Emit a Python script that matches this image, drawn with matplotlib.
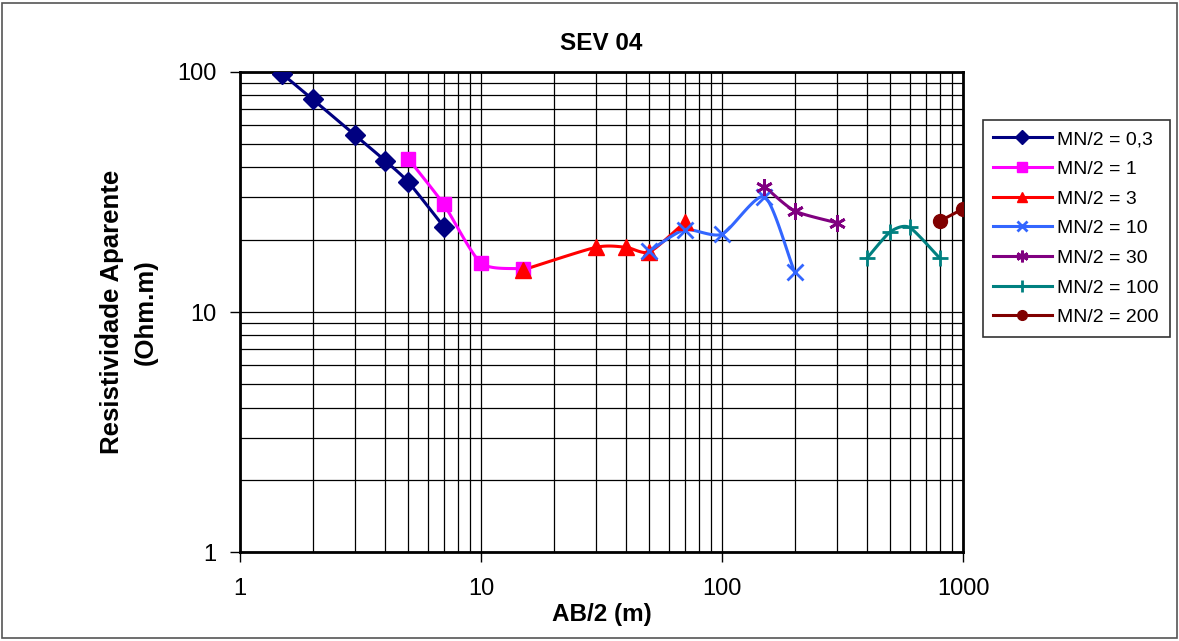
import numpy as np
import matplotlib.pyplot as plt
from matplotlib.patches import Rectangle

plt.rcParams['font.family'] = ['Liberation Sans', 'DejaVu Sans']

# AB/2 (m) and apparent resistivity (Ohm.m) for each MN/2
x_03 = [1.5, 2, 3, 4, 5, 7]
y_03 = [98, 77, 54.6, 42.7, 34.7, 22.7]
x_1 = [5, 7, 10, 15]
y_1 = [43.4, 28.1, 16.0, 15.1]
x_3 = [15, 30, 40, 50, 70]
y_3 = [15.0, 18.6, 18.6, 17.8, 23.6]
x_10 = [50, 70, 100, 150, 200]
y_10 = [18.0, 22.0, 21.1, 30.2, 14.7]
x_30 = [150, 200, 300]
y_30 = [33.3, 26.4, 23.5]
x_100 = [400, 500, 600, 800]
y_100 = [16.8, 21.6, 22.5, 16.8]
x_200 = [800, 1000]
y_200 = [23.9, 26.9]

labels = ['MN/2 = 0,3', 'MN/2 = 1', 'MN/2 = 3', 'MN/2 = 10',
          'MN/2 = 30', 'MN/2 = 100', 'MN/2 = 200']
colors = ['#000080', '#FF00FF', '#FF0000', '#3366FF',
          '#800080', '#008080', '#800000']
markers = ['D', 's', '^', 'x', (6, 2, 0), '+', 'o']
msizes = [10, 10, 11, 11, 12, 12, 10]


def smooth(x, y, n=30, k=0.35):
    # cardinal spline through the points in log-log space (like Excel smoothed lines)
    lx, ly = np.log10(x), np.log10(y)
    if len(lx) < 3:
        return x, y
    px = np.concatenate([[2 * lx[0] - lx[1]], lx, [2 * lx[-1] - lx[-2]]])
    py = np.concatenate([[2 * ly[0] - ly[1]], ly, [2 * ly[-1] - ly[-2]]])
    ox, oy = [], []
    t = np.linspace(0, 1, n)
    h00 = 2 * t ** 3 - 3 * t ** 2 + 1
    h10 = t ** 3 - 2 * t ** 2 + t
    h01 = -2 * t ** 3 + 3 * t ** 2
    h11 = t ** 3 - t ** 2
    for i in range(1, len(px) - 2):
        for p, out in ((px, ox), (py, oy)):
            m1 = k * (p[i + 1] - p[i - 1])
            m2 = k * (p[i + 2] - p[i])
            out.extend(h00 * p[i] + h10 * m1 + h01 * p[i + 1] + h11 * m2)
    return 10 ** np.array(ox), 10 ** np.array(oy)


fig = plt.figure(figsize=(11.79, 6.41), dpi=100)
ax = fig.add_axes([0.2036, 0.1388, 0.6132, 0.7489])

series = [(x_03, y_03), (x_1, y_1), (x_3, y_3), (x_10, y_10),
          (x_30, y_30), (x_100, y_100), (x_200, y_200)]
for (xs, ys), lab, c, m, ms in zip(series, labels, colors, markers, msizes):
    sx, sy = smooth(xs, ys)
    ax.plot(sx, sy, color=c, lw=2.2, zorder=3)
    mew = 2 if m in ('x', '+', (6, 2, 0)) else 1
    ax.plot(xs, ys, linestyle='none', marker=m, color=c, ms=ms, mew=mew, zorder=4)
    ax.plot([], [], color=c, lw=2.2, marker=m, ms=ms * 0.7, mew=mew, label=lab)

ax.set_xscale('log')
ax.set_yscale('log')
ax.set_xlim(1, 1000)
ax.set_ylim(1, 100)
ax.set_xticks([1, 10, 100, 1000])
ax.set_xticklabels(['1', '10', '100', '1000'])
ax.set_yticks([1, 10, 100])
ax.set_yticklabels(['1', '10', '100'])
ax.tick_params(axis='both', which='major', labelsize=17, length=7, width=1, direction='out')
ax.tick_params(axis='x', pad=12)
ax.tick_params(axis='y', pad=10)
ax.tick_params(which='minor', length=0)
ax.grid(True, which='both', color='black', lw=0.9)
for s in ax.spines.values():
    s.set_linewidth(2)

ax.set_title('SEV 04', fontsize=17.5, fontweight='bold', pad=16)
ax.set_xlabel('AB/2 (m)', fontsize=17.5, fontweight='bold', labelpad=2)
ax.set_ylabel('Resistividade Aparente\n(Ohm.m)', fontsize=18.5, fontweight='bold',
              labelpad=14, linespacing=1.5)

leg = ax.legend(loc='upper left', bbox_to_anchor=(1.027, 0.9), borderaxespad=0,
                fontsize=14, frameon=True, fancybox=False, edgecolor='black',
                handlelength=3.0, borderpad=0.55, labelspacing=0.62, handletextpad=0.3)
leg.get_frame().set_linewidth(1.2)

fig.patches.append(Rectangle((0.002, 0.004), 0.996, 0.992, transform=fig.transFigure,
                             fill=False, edgecolor='#555555', lw=1.2))

fig.savefig('out.png', dpi=100)
